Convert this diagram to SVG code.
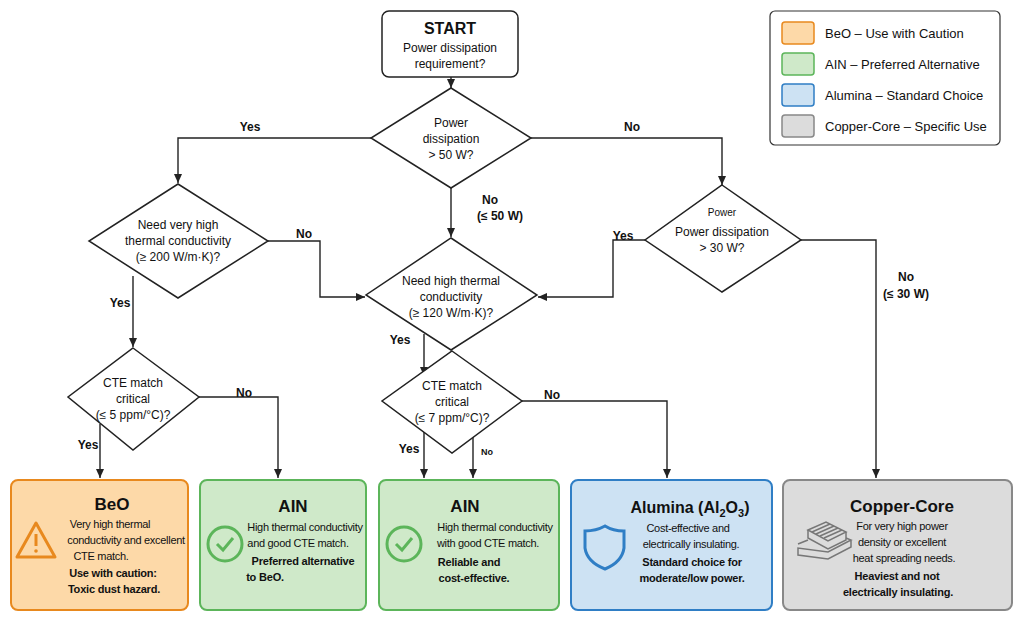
<svg xmlns="http://www.w3.org/2000/svg" width="1024" height="617" viewBox="0 0 1024 617">
<style>
text{font-family:"Liberation Sans",Arial,sans-serif;fill:#111;text-anchor:middle}
.q{font-size:12px}
.l{font-size:12px;font-weight:bold}
.t{font-size:17px;font-weight:bold}
.d{font-size:11px;letter-spacing:-0.3px}
.b{font-size:11px;font-weight:bold;letter-spacing:-0.2px}
.dia{fill:#fff;stroke:#222;stroke-width:1.5}
.c{fill:none;stroke:#222;stroke-width:1.4;marker-end:url(#a)}
.lg{font-size:13px;text-anchor:start}
</style>
<defs><marker id="a" markerWidth="10" markerHeight="10" refX="9" refY="5" orient="auto" markerUnits="userSpaceOnUse"><path d="M0,1 L9,5 L0,9 z" fill="#222"/></marker></defs>
<rect width="1024" height="617" fill="#fff"/>
<g id="connectors">
<path class="c" d="M451,77 V88"/>
<path class="c" d="M371,138 H178 V183"/>
<path class="c" d="M531,138 H722 V185"/>
<path class="c" d="M451,188 V237"/>
<path class="c" d="M268,241 H320 V297 H365"/>
<path class="c" d="M645,240 H613 V297 H538"/>
<path class="c" d="M801,240 H876 V478"/>
<path class="c" d="M133,276 V347"/>
<path class="c" d="M100,424 V478"/>
<path class="c" d="M199,397 H278 V478"/>
<path class="c" d="M424,334 V376"/>
<path class="c" d="M424,429 V478"/>
<path class="c" d="M473,437 V478"/>
<path class="c" d="M522,401 H667 V478"/>
<text class="l" x="250" y="131">Yes</text>
<text class="l" x="632" y="131">No</text>
<text class="l" x="490" y="204">No</text>
<text class="l" x="500" y="220">(≤ 50 W)</text>
<text class="l" x="304" y="238">No</text>
<text class="l" x="623" y="240">Yes</text>
<text class="l" x="906" y="281">No</text>
<text class="l" x="906" y="298">(≤ 30 W)</text>
<text class="l" x="120" y="307">Yes</text>
<text class="l" x="88" y="449">Yes</text>
<text class="l" x="244" y="397">No</text>
<text class="l" x="400" y="344">Yes</text>
<text class="l" x="409" y="453">Yes</text>
<text class="l" x="487" y="455" style="font-size:9px">No</text>
<text class="l" x="552" y="399">No</text>
</g>
<g id="start"><rect x="382" y="11" width="136" height="66" rx="7" fill="#fff" stroke="#222" stroke-width="1.5"/>
<text x="450" y="34" style="font-size:16px;font-weight:bold">START</text>
<text class="q" x="450" y="52">Power dissipation</text><text class="q" x="450" y="68">requirement?</text></g>
<g id="d1"><path class="dia" d="M451,88 L531,138 L451,188 L371,138 Z"/>
<text class="q" x="451" y="127">Power</text><text class="q" x="451" y="143">dissipation</text><text class="q" x="451" y="159">&gt; 50 W?</text></g>
<g id="d2"><path class="dia" d="M178,184 L268,241 L178,298 L89,241 Z"/>
<text class="q" x="178" y="229">Need very high</text><text class="q" x="178" y="245">thermal conductivity</text><text class="q" x="178" y="261">(≥ 200 W/m·K)?</text></g>
<g id="d3"><path class="dia" d="M722,185 L801,240 L722,292 L645,240 Z"/>
<text x="722" y="216" style="font-size:10px">Power</text><text class="q" x="722" y="236">Power dissipation</text><text class="q" x="722" y="252">&gt; 30 W?</text></g>
<g id="d4"><path class="dia" d="M451,238 L537,295 L451,350 L366,295 Z"/>
<text class="q" x="451" y="285">Need high thermal</text><text class="q" x="451" y="301">conductivity</text><text class="q" x="451" y="317">(≥ 120 W/m·K)?</text></g>
<g id="d5"><path class="dia" d="M133,348 L199,397 L133,450 L68,397 Z"/>
<text class="q" x="133" y="387">CTE match</text><text class="q" x="133" y="403">critical</text><text class="q" x="133" y="419">(≤ 5 ppm/°C)?</text></g>
<g id="d6"><path class="dia" d="M452,351 L522,401 L452,453 L382,401 Z"/>
<text class="q" x="452" y="390">CTE match</text><text class="q" x="452" y="406">critical</text><text class="q" x="452" y="422">(≤ 7 ppm/°C)?</text></g>
<g id="beo"><rect x="11" y="480" width="177" height="130" rx="7" fill="#fdd9a8" stroke="#e8891e" stroke-width="2"/>
<path d="M36,523 L55,557 L17,557 Z" fill="none" stroke="#e8891e" stroke-width="3" stroke-linejoin="round"/>
<path d="M36,534 V546" stroke="#e8891e" stroke-width="3"/><circle cx="36" cy="551" r="1.8" fill="#e8891e"/>
<text class="t" x="112" y="510">BeO</text>
<text class="d" x="110" y="528">Very high thermal</text><text class="d" x="126" y="544">conductivity and excellent</text><text class="d" x="101" y="560">CTE match.</text>
<text class="b" x="113" y="577">Use with caution:</text><text class="b" x="114" y="593">Toxic dust hazard.</text></g>
<g id="aln1"><rect x="200" y="480" width="166" height="130" rx="7" fill="#cfe9c9" stroke="#5cb55a" stroke-width="2"/>
<circle cx="225" cy="544" r="17" fill="none" stroke="#5cb55a" stroke-width="3"/><path d="M217,544 L223,550 L233,538" fill="none" stroke="#5cb55a" stroke-width="3"/>
<text class="t" x="293" y="512">AIN</text>
<text class="d" x="305" y="531">High thermal conductivity</text><text class="d" x="298" y="547">and good CTE match.</text>
<text class="b" x="303" y="565">Preferred alternative</text><text class="b" x="265" y="581">to BeO.</text></g>
<g id="aln2"><rect x="379" y="480" width="180" height="130" rx="7" fill="#cfe9c9" stroke="#5cb55a" stroke-width="2"/>
<circle cx="404" cy="544" r="17" fill="none" stroke="#5cb55a" stroke-width="3"/><path d="M396,544 L402,550 L412,538" fill="none" stroke="#5cb55a" stroke-width="3"/>
<text class="t" x="465" y="512">AIN</text>
<text class="d" x="495" y="531">High thermal conductivity</text><text class="d" x="488" y="547">with good CTE match.</text>
<text class="b" x="469" y="566">Reliable and</text><text class="b" x="474" y="582">cost-effective.</text></g>
<g id="alumina"><rect x="571" y="480" width="201" height="130" rx="7" fill="#cde2f3" stroke="#2f7ec5" stroke-width="2"/>
<path d="M605,526 Q596,531 585,531 V548 Q587,562 605,569 Q622,562 624,548 V531 Q613,531 605,526 Z" fill="none" stroke="#2f7ec5" stroke-width="3"/>
<text class="t" x="690" y="513" style="font-size:16px">Alumina (Al<tspan dy="4" style="font-size:11px">2</tspan><tspan dy="-4">O</tspan><tspan dy="4" style="font-size:11px">3</tspan><tspan dy="-4">)</tspan></text>
<text class="d" x="688" y="532">Cost-effective and</text><text class="d" x="691" y="548">electrically insulating.</text>
<text class="b" x="692" y="566">Standard choice for</text><text class="b" x="692" y="582">moderate/low power.</text></g>
<g id="copper"><rect x="783" y="480" width="229" height="130" rx="7" fill="#dcdcdc" stroke="#888" stroke-width="2"/>
<g fill="none" stroke="#777" stroke-width="1.5"><path d="M808,530 L826,522 L846,532 L828,541 Z"/><path d="M812,532 L830,524 M816,534 L834,526 M820,536 L838,528 M824,538 L842,530"/><path d="M808,530 V538 L828,549 L846,540 V532"/><path d="M798,544 L808,540 M846,538 L851,540 L828,552 L798,548 V555 L828,559 L851,547 V540"/></g>
<text class="t" x="902" y="512">Copper-Core</text>
<text class="d" x="902" y="530">For very high power</text><text class="d" x="902" y="546">density or excellent</text><text class="d" x="904" y="562">heat spreading needs.</text>
<text class="b" x="897" y="580">Heaviest and not</text><text class="b" x="898" y="596">electrically insulating.</text></g>
<g id="legend"><rect x="770" y="11" width="230" height="134" rx="5" fill="#fff" stroke="#333" stroke-width="1.2"/>
<rect x="782" y="22" width="32" height="22" rx="3" fill="#fdd9a8" stroke="#e8891e" stroke-width="1.5"/><text class="lg" x="825" y="38">BeO – Use with Caution</text>
<rect x="782" y="53" width="32" height="22" rx="3" fill="#cfe9c9" stroke="#5cb55a" stroke-width="1.5"/><text class="lg" x="825" y="69">AIN – Preferred Alternative</text>
<rect x="782" y="84" width="32" height="22" rx="3" fill="#cde2f3" stroke="#2f7ec5" stroke-width="1.5"/><text class="lg" x="825" y="100">Alumina – Standard Choice</text>
<rect x="782" y="115" width="32" height="22" rx="3" fill="#dcdcdc" stroke="#888" stroke-width="1.5"/><text class="lg" x="825" y="131">Copper-Core – Specific Use</text></g>
</svg>
